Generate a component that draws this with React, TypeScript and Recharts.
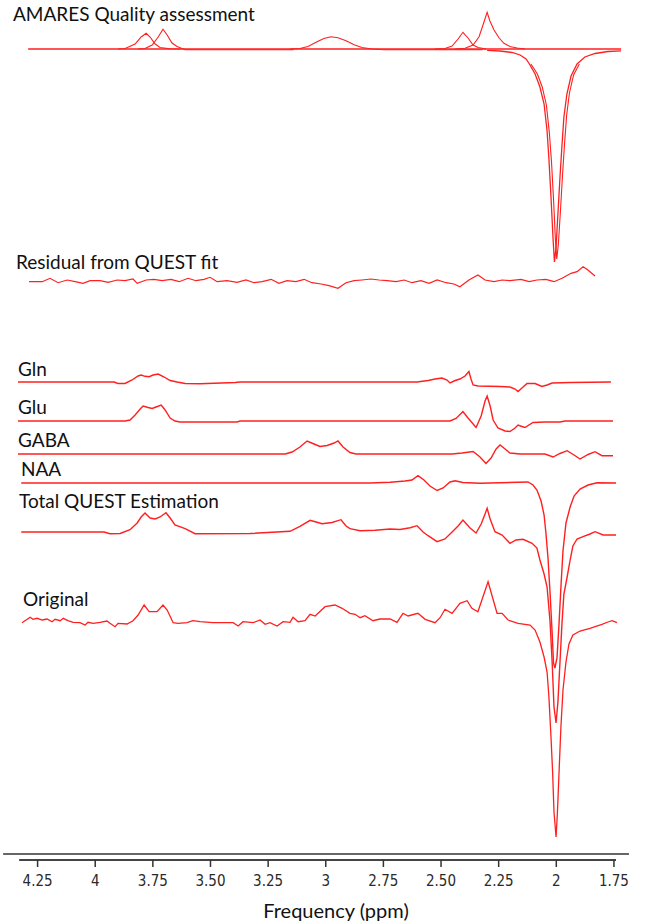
import { ComposedChart, Line, XAxis, YAxis, ReferenceLine } from "recharts";

type Pt = [number, number];

// frequency axis (ppm, reversed)
const tickValues = [4.25, 4, 3.75, 3.5, 3.25, 3, 2.75, 2.5, 2.25, 2, 1.75];
const tickLabels = ["4.25", "4", "3.75", "3.50", "3.25", "3", "2.75", "2.50", "2.25", "2", "1.75"];

// AMARES components  [ppm, amplitude]
const amaresBaseline: Pt[] = [[4.291, 0], [1.719, 0]];
const amaresGlxA: Pt[] = [[3.901, 0], [3.87, 0.5], [3.827, 5], [3.801, 12], [3.779, 15.7], [3.762, 12], [3.74, 5], [3.719, 1.5], [3.675, 0.3], [3.632, 0]];
const amaresGlxB: Pt[] = [[3.814, 0], [3.784, 0.5], [3.753, 4], [3.727, 12], [3.706, 19.7], [3.688, 14], [3.667, 6], [3.645, 2.5], [3.61, -0.7], [3.14, -0.7]];
const amaresGaba30: Pt[] = [[3.155, 0], [3.112, 0.5], [3.077, 2.5], [3.038, 7.3], [3.008, 10.5], [2.977, 12.3], [2.947, 11.3], [2.912, 8.3], [2.877, 4.3], [2.843, 1.5], [2.799, 0], [2.75, -0.7], [2.32, -0.7]];
const amaresGlu235: Pt[] = [[2.526, 0], [2.483, 0.5], [2.452, 3], [2.426, 10], [2.405, 16.7], [2.383, 11], [2.361, 4], [2.339, 1.5], [2.305, 0]];
const amaresGaba23: Pt[] = [[2.439, 0], [2.396, 0.8], [2.361, 4], [2.335, 12.3], [2.318, 24], [2.3, 36.7], [2.288, 28], [2.27, 19], [2.248, 11], [2.227, 5.7], [2.201, 2.5], [2.17, 1], [2.136, 0]];
const amaresNaa: Pt[] = [[2.3, -1.3], [2.244, -2], [2.192, -3.5], [2.157, -6], [2.131, -10], [2.114, -16], [2.092, -25], [2.071, -38], [2.053, -55], [2.04, -82], [2.032, -110], [2.023, -148], [2.014, -190], [2.008, -213], [2.001, -198], [1.993, -165], [1.984, -128], [1.975, -95], [1.967, -68], [1.954, -45], [1.936, -27], [1.91, -15], [1.876, -8], [1.832, -4.5], [1.776, -2.5], [1.719, -1.8]];
const amaresNaaFit: Pt[] = [[2.11, -15], [2.082, -25], [2.061, -38], [2.043, -56], [2.03, -84], [2.021, -112], [2.012, -150], [2.004, -190], [1.998, -210], [1.991, -195], [1.982, -162], [1.973, -126], [1.964, -94], [1.955, -66], [1.943, -44], [1.925, -26], [1.9, -15]];

const residual: Pt[] = [
  [4.287, 0.3], [4.23, 0.3], [4.196, 3.7], [4.161, -0.7], [4.122, 2], [4.087, 0.3], [4.053, -1.3], [4.022, 1.3], [3.979, 1.3], [3.944, -0.3],
  [3.905, 2], [3.871, 1.3], [3.836, 3], [3.818, -1.3], [3.779, 2], [3.745, 2.7], [3.71, 1.3], [3.671, 2.7], [3.636, 0.3], [3.597, 3.7],
  [3.563, 1.3], [3.528, 2.7], [3.502, 4.7], [3.471, 0.3], [3.428, 1.3], [3.385, -0.3], [3.346, 2], [3.311, -0.7], [3.276, 0.3], [3.237, 2.7],
  [3.203, -1.3], [3.168, 1.3], [3.129, 0.3], [3.094, 2.7], [3.06, -0.7], [3.02, -2], [2.986, -3.7], [2.947, -6.3], [2.912, -0.7], [2.877, 1.3],
  [2.843, 2], [2.804, 3], [2.769, 2], [2.734, 1.3], [2.695, 0.3], [2.66, 2], [2.626, -0.7], [2.587, 1.3], [2.552, -1.3], [2.517, 2],
  [2.478, -0.7], [2.444, -2], [2.418, -4.7], [2.379, 2], [2.34, 7], [2.309, 2], [2.27, 0.3], [2.235, 2], [2.201, 1.3], [2.153, 2.7],
  [2.118, 0.3], [2.084, 2], [2.045, 2.7], [2.01, 0.3], [1.975, 3.7], [1.936, 8.7], [1.91, 10.3], [1.884, 15.3], [1.867, 12.7], [1.832, 6],
];

const gln: Pt[] = [
  [4.335, 0], [3.918, 0], [3.901, -1.5], [3.871, -1.5], [3.84, 2], [3.814, 6], [3.801, 7], [3.784, 5.7], [3.766, 5.3], [3.749, 7],
  [3.727, 8], [3.701, 5], [3.675, 1.5], [3.645, 0], [3.61, -1.5], [3.545, -1.7], [3.393, -0.5], [3.372, 0], [2.604, 0], [2.556, 1.5],
  [2.526, 3], [2.496, 4], [2.474, 2], [2.461, -1], [2.439, 1.5], [2.418, 3], [2.396, 6], [2.379, 10.5], [2.37, 3], [2.361, -3],
  [2.339, -4], [2.244, -4.5], [2.201, -5], [2.179, -7], [2.166, -9.5], [2.149, -6], [2.127, -1.5], [2.092, -1.5], [2.062, -4.5], [2.04, -3],
  [2.018, -1], [1.94, -0.5], [1.763, 0],
];

const glu: Pt[] = [
  [4.335, 0], [3.871, 0], [3.849, 1], [3.827, 6], [3.805, 12], [3.792, 15], [3.771, 13.5], [3.753, 12.5], [3.736, 14], [3.714, 16],
  [3.697, 11], [3.675, 3], [3.654, 0], [3.632, -1], [3.385, -1], [3.372, 0], [2.461, 0], [2.435, 2.5], [2.405, 9.5], [2.383, 3],
  [2.348, -6.5], [2.326, 5], [2.309, 20], [2.3, 25], [2.287, 15], [2.274, 1], [2.253, -7], [2.222, -10], [2.201, -10.5], [2.179, -7],
  [2.166, -4], [2.149, -5.5], [2.136, -6.5], [2.101, -1.5], [2.049, -1], [1.984, -1], [1.962, 0], [1.754, 0],
];

const gaba: Pt[] = [
  [4.335, 0], [3.176, 0], [3.146, 2], [3.112, 7], [3.081, 13], [3.051, 10], [3.025, 7.5], [2.994, 8.5], [2.964, 11], [2.947, 13],
  [2.925, 7], [2.895, 1.5], [2.869, 0], [2.452, 0], [2.409, 1], [2.361, 2.5], [2.331, -3], [2.305, -9.5], [2.283, -4], [2.261, 5],
  [2.244, 9], [2.222, 5], [2.201, 1], [2.157, 0], [2.049, 0], [2.014, -3], [1.984, 0.5], [1.953, 3.3], [1.923, -1], [1.897, -5],
  [1.862, -0.5], [1.832, 2.3], [1.802, -1.7], [1.754, -1.7],
];

const naa: Pt[] = [
  [4.321, 0], [2.808, 0], [2.721, 0.8], [2.656, 2], [2.626, 3], [2.6, 7.3], [2.574, 3], [2.548, -3], [2.517, -7.5], [2.491, -5],
  [2.461, 1], [2.439, 2.3], [2.405, 0.5], [2.331, -0.3], [2.123, 1], [2.101, -2], [2.084, -7], [2.066, -18], [2.053, -32], [2.045, -50],
  [2.036, -75], [2.027, -110], [2.018, -150], [2.012, -180], [2.006, -185], [1.997, -175], [1.988, -140], [1.979, -100], [1.971, -68], [1.958, -40],
  [1.94, -24], [1.923, -13], [1.897, -6], [1.862, -2], [1.823, 0.3], [1.741, 0],
];

const totalQuest: Pt[] = [
  [4.321, 0], [3.962, 0], [3.936, -1.7], [3.892, -1.5], [3.849, 2.3], [3.818, 9], [3.801, 15], [3.784, 19], [3.762, 14], [3.74, 13],
  [3.719, 15], [3.693, 19.3], [3.675, 14], [3.654, 7], [3.61, 3.3], [3.567, -1.7], [3.328, -1.5], [3.155, 0.7], [3.112, 5.7], [3.068, 11.7],
  [3.042, 10], [3.016, 8.3], [2.973, 9.5], [2.934, 12.3], [2.912, 6], [2.895, 3.3], [2.851, 1.3], [2.786, 1.8], [2.721, 3], [2.678, 2.5],
  [2.634, 4.3], [2.604, 6.3], [2.578, 0], [2.556, -3.7], [2.517, -9.7], [2.483, -7], [2.452, 0], [2.426, 6], [2.405, 12], [2.374, 4],
  [2.348, -1], [2.326, 8], [2.309, 18], [2.3, 23.7], [2.287, 13], [2.266, 0.3], [2.235, -3], [2.201, -11.3], [2.175, -8], [2.144, -7.3],
  [2.105, -11.3], [2.084, -16], [2.071, -28], [2.053, -42], [2.04, -55], [2.027, -90], [2.018, -130], [2.01, -175], [2.001, -191], [1.993, -170],
  [1.984, -130], [1.975, -90], [1.967, -62], [1.953, -45], [1.94, -28], [1.928, -14], [1.91, -7], [1.884, -4.7], [1.854, -2], [1.832, 0.3],
  [1.797, -3], [1.741, -3],
];

const original: Pt[] = [
  [4.318, -0.7], [4.282, 4.7], [4.27, 2.7], [4.252, 3.7], [4.23, 2], [4.209, 3], [4.187, 0.3], [4.174, 2.7], [4.152, 1.3], [4.139, 3.7],
  [4.118, 1.3], [4.096, -0.3], [4.066, -0.7], [4.044, -3], [4.031, -0.3], [4.009, -1.3], [3.979, -0.3], [3.949, 1], [3.936, -1.3], [3.914, -4.7],
  [3.901, -1.3], [3.862, -2], [3.836, 1.3], [3.814, 7], [3.788, 17], [3.766, 10.3], [3.732, 10.3], [3.706, 17], [3.688, 12], [3.662, -0.7],
  [3.641, -1.3], [3.602, -0.7], [3.576, 1.3], [3.545, 0.3], [3.489, -0.7], [3.445, -0.7], [3.402, -0.7], [3.38, -4], [3.359, 0.3], [3.315, -0.7],
  [3.285, 2], [3.263, -2.3], [3.242, -0.7], [3.211, -4], [3.185, 0.3], [3.155, -0.3], [3.142, 4.7], [3.12, 0.3], [3.09, 1.3], [3.068, 7.7],
  [3.046, 6], [3.003, 15.3], [2.96, 17], [2.929, 13.7], [2.895, 8.7], [2.873, 7.7], [2.851, 4.3], [2.83, 6.3], [2.795, 1.3], [2.765, 3],
  [2.721, 3], [2.691, -0.3], [2.665, 8.7], [2.643, 6], [2.6, 8.7], [2.569, 2.7], [2.526, -0.7], [2.504, 4.3], [2.483, 12.7], [2.452, 8.7],
  [2.418, 18.7], [2.387, 21.3], [2.366, 13.7], [2.34, 10.3], [2.296, 40.3], [2.257, 8.7], [2.235, 8.7], [2.209, 2], [2.166, -1.3], [2.114, -3],
  [2.092, -8], [2.071, -20], [2.053, -35], [2.04, -50], [2.032, -75], [2.023, -115], [2.016, -150], [2.01, -190], [2.001, -215], [1.995, -190],
  [1.988, -150], [1.98, -105], [1.971, -68], [1.958, -40], [1.945, -22], [1.928, -13], [1.897, -9], [1.854, -6.3], [1.802, -2.3], [1.776, 0],
  [1.758, 1.3], [1.737, -0.7],
];

// vertical stacking of the traces (a.u.)
const traceOffsets = {
  amares: 811,
  residual: 578,
  gln: 478,
  glu: 439,
  gaba: 406,
  naa: 377,
  total: 328,
  original: 238,
};

const traceNames = [
  "AMARES Quality assessment",
  "Residual from QUEST fit",
  "Gln",
  "Glu",
  "GABA",
  "NAA",
  "Total QUEST Estimation",
  "Original",
];
const labelPos = [
  { left: 13, cy: 14 },
  { left: 16, cy: 262 },
  { left: 18, cy: 369 },
  { left: 18, cy: 407 },
  { left: 18, cy: 440 },
  { left: 21, cy: 469 },
  { left: 19, cy: 501 },
  { left: 23, cy: 599 },
];

const RED = "#ff1f1f";
const W = 654;
const H = 923;

function toSeries(points: Pt[], offset: number) {
  return points.map(([ppm, amp]) => ({ ppm, v: offset + amp }));
}

const series = [
  { id: "amBase", pts: amaresBaseline, off: traceOffsets.amares, w: 1.3 },
  { id: "amGlxA", pts: amaresGlxA, off: traceOffsets.amares, w: 1.1 },
  { id: "amGlxB", pts: amaresGlxB, off: traceOffsets.amares, w: 1.1 },
  { id: "amGaba30", pts: amaresGaba30, off: traceOffsets.amares, w: 1.1 },
  { id: "amGlu", pts: amaresGlu235, off: traceOffsets.amares, w: 1.1 },
  { id: "amGaba23", pts: amaresGaba23, off: traceOffsets.amares, w: 1.1 },
  { id: "amNaa", pts: amaresNaa, off: traceOffsets.amares, w: 1.3 },
  { id: "amNaaFit", pts: amaresNaaFit, off: traceOffsets.amares, w: 1.1 },
  { id: "residual", pts: residual, off: traceOffsets.residual, w: 1.2 },
  { id: "gln", pts: gln, off: traceOffsets.gln, w: 1.4 },
  { id: "glu", pts: glu, off: traceOffsets.glu, w: 1.4 },
  { id: "gaba", pts: gaba, off: traceOffsets.gaba, w: 1.4 },
  { id: "naa", pts: naa, off: traceOffsets.naa, w: 1.4 },
  { id: "total", pts: totalQuest, off: traceOffsets.total, w: 1.4 },
  { id: "original", pts: original, off: traceOffsets.original, w: 1.3 },
];

export default function App() {
  return (
    <div style={{ position: "absolute", left: 0, top: 0, width: W, height: H, background: "#fff" }}>
      <ComposedChart width={W} height={H} margin={{ top: 0, right: 32, left: 18, bottom: 23 }}>
        <XAxis
          type="number"
          dataKey="ppm"
          domain={[1.715, 4.335]}
          allowDataOverflow
          reversed
          ticks={tickValues}
          interval={0}
          tickFormatter={(v: number) => tickLabels[tickValues.indexOf(v)] ?? String(v)}
          axisLine={false}
          tickLine={{ stroke: "#333", strokeWidth: 1.5 }}
          tickSize={7}
          tickMargin={8}
          height={40}
          tick={{ fontSize: 15, fill: "#2a2a2a", fontFamily: "'DejaVu Sans Condensed', 'Liberation Sans Narrow', sans-serif" }}
        />
        <YAxis type="number" hide domain={[0, 860]} allowDataOverflow />
        <ReferenceLine
          segment={[{ x: 4.3996, y: 6 }, { x: 1.6847, y: 6 }]}
          stroke="#333"
          strokeWidth={1.6}
          ifOverflow="visible"
        />
        <ReferenceLine
          segment={[{ x: 4.33, y: 0 }, { x: 1.741, y: 0 }]}
          stroke="#444"
          strokeWidth={2}
          ifOverflow="visible"
        />
        {series.map((s) => (
          <Line
            key={s.id}
            data={toSeries(s.pts, s.off)}
            dataKey="v"
            type="linear"
            stroke={RED}
            strokeWidth={s.w}
            dot={false}
            activeDot={false}
            isAnimationActive={false}
          />
        ))}
      </ComposedChart>
      {traceNames.map((name, i) => (
        <div
          key={name}
          style={{
            position: "absolute",
            left: labelPos[i].left,
            top: labelPos[i].cy - 12,
            lineHeight: "24px",
            fontSize: 19,
            fontFamily: "Lato, 'Open Sans', sans-serif",
            color: "#111",
            whiteSpace: "nowrap",
          }}
        >
          {name}
        </div>
      ))}
      <div
        style={{
          position: "absolute",
          left: 0,
          width: 672,
          top: 898,
          lineHeight: "24px",
          textAlign: "center",
          fontSize: 20,
          fontFamily: "Lato, 'Open Sans', sans-serif",
          color: "#111",
        }}
      >
        Frequency (ppm)
      </div>
    </div>
  );
}
